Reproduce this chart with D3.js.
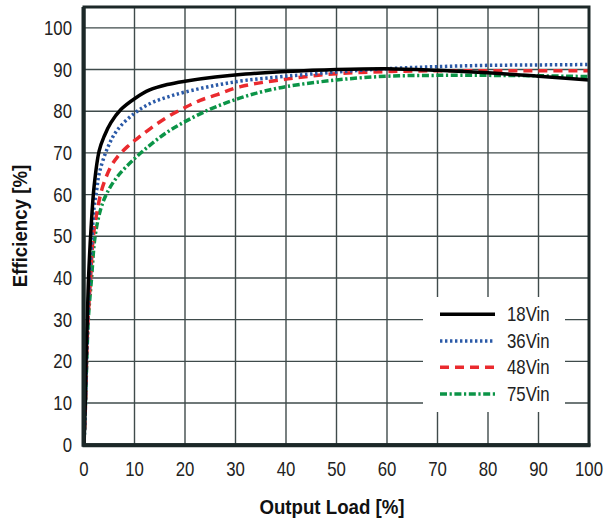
<!DOCTYPE html>
<html>
<head>
<meta charset="utf-8">
<script src="https://cdn.jsdelivr.net/npm/d3@7"></script>
<style>
    body { margin: 0; background: #fff; }
    svg { display: block; font-family: "Liberation Sans", Arial, sans-serif; }
    .grid line { stroke: #3f4b4b; stroke-width: 1.4; }
    .tick-label { font-size: 20px; fill: #222; }
    .axis-title { font-size: 21px; font-weight: bold; fill: #111; }
    .curve { fill: none; stroke-width: 3.5; }
</style>
</head>
<body>
<svg id="chart"></svg>
<script>
// values, load % and efficiency %
const load18 = [0, 0.25, 0.4, 0.65, 0.9, 1.4, 2, 3, 4, 5.3, 7.3, 10, 13, 16.5, 20, 26, 32, 40, 50, 60, 70, 80, 90, 100];
const eff18  = [0, 10, 20, 30, 40, 52, 62, 70.5, 74, 77.2, 80.4, 83, 85.1, 86.4, 87.2, 88.2, 88.9, 89.5, 90, 90.2, 89.8, 89.2, 88.4, 87.5];

const load36 = [0, 0.3, 0.5, 0.75, 1.1, 1.6, 2, 2.5, 3, 4.6, 6.6, 10, 13.2, 16.5, 20, 26, 32, 40, 50, 60, 70, 80, 90, 100];
const eff36  = [0, 10, 20, 30, 40, 50, 57, 61, 65, 71, 75.5, 79.5, 81.9, 83.4, 84.6, 86.2, 87.4, 88.4, 89.4, 90.2, 90.7, 91, 91.1, 91.2];

const load48 = [0, 0.3, 0.5, 0.8, 1.3, 1.85, 2.6, 3.6, 5.3, 6.6, 8.6, 10.6, 13.2, 16.5, 20, 23, 26.4, 31, 40, 50, 60, 70, 80, 90, 100];
const eff48  = [0, 10, 20, 30, 40, 50, 56, 61.5, 66.7, 69, 71.5, 73.5, 75.9, 78.6, 80.9, 82.6, 84, 85.9, 87.7, 89, 89.5, 89.7, 89.7, 89.7, 89.7];

const load75 = [0, 0.3, 0.55, 0.85, 1.5, 2.2, 3.3, 4.6, 6.6, 9.9, 13.2, 16.5, 20, 25, 30, 35, 40, 50, 60, 70, 80, 90, 100];
const eff75  = [0, 10, 20, 30, 40, 50, 56.5, 60.5, 64.3, 68.5, 72, 75, 77.5, 80.5, 82.8, 84.6, 85.9, 87.5, 88.4, 88.6, 88.6, 88.5, 88.3];

const seriesNames = ["18Vin", "36Vin", "48Vin", "75Vin"];
const xTicks = [0, 10, 20, 30, 40, 50, 60, 70, 80, 90, 100];
const yTicks = [0, 10, 20, 30, 40, 50, 60, 70, 80, 90, 100];

const W = 604, H = 522;
const styles = [
    {color: "#000000", dash: null},
    {color: "#2b5aa8", dash: "2.4,2.6"},
    {color: "#ea2a2e", dash: "9,6"},
    {color: "#0b9447", dash: "7,2.6,2.2,2.6"}
];

const svg = d3.select("#chart").attr("width", W).attr("height", H);

const x = d3.scaleLinear().domain([0, 100]).range([84, 589]);
const y = d3.scaleLinear().domain([0, 105]).range([444.7, 7]);

// the original uses a condensed face, so squeeze Liberation Sans sideways
function narrowText(sel, sx, px, py, extra) {
    return sel.attr("transform", function (d, i) {
        let tx = typeof px === "function" ? px(d, i) : px;
        let ty = typeof py === "function" ? py(d, i) : py;
        return "translate(" + tx + "," + ty + ")" + (extra || "") + " scale(" + sx + ",1)";
    });
}

// grid
const grid = svg.append("g").attr("class", "grid");
grid.selectAll("line.v").data(xTicks.slice(1, -1)).enter().append("line")
    .attr("x1", d => x(d)).attr("x2", d => x(d))
    .attr("y1", y(105)).attr("y2", y(0));
grid.selectAll("line.h").data(yTicks.slice(1)).enter().append("line")
    .attr("x1", x(0)).attr("x2", x(100))
    .attr("y1", d => y(d)).attr("y2", d => y(d));

// legend background hides the grid behind it
svg.append("rect")
    .attr("x", 423).attr("y", 297)
    .attr("width", 142).attr("height", 115)
    .attr("fill", "#fff");

// curves
const series = [
    d3.zip(load18, eff18),
    d3.zip(load36, eff36),
    d3.zip(load48, eff48),
    d3.zip(load75, eff75)
];
const line = d3.line()
    .x(d => x(d[0]))
    .y(d => y(d[1]))
    .curve(d3.curveCatmullRom.alpha(0.5));

// draw 18Vin last so it sits on top like the original
[3, 2, 1, 0].forEach(function (i) {
    svg.append("path")
        .datum(series[i])
        .attr("class", "curve")
        .attr("stroke", styles[i].color)
        .attr("stroke-dasharray", styles[i].dash)
        .attr("d", line);
});

// frame
svg.append("rect")
    .attr("x", x(0)).attr("y", y(105))
    .attr("width", x(100) - x(0)).attr("height", y(0) - y(105))
    .attr("fill", "none").attr("stroke", "#1c2828").attr("stroke-width", 3);
svg.append("line")
    .attr("x1", x(0) - 1.5).attr("x2", x(100) + 1.5)
    .attr("y1", y(0) + 0.5).attr("y2", y(0) + 0.5)
    .attr("stroke", "#1c2828").attr("stroke-width", 4);
svg.append("line")
    .attr("x1", x(0) - 0.5).attr("x2", x(0) - 0.5)
    .attr("y1", y(105)).attr("y2", y(0) + 2)
    .attr("stroke", "#1c2828").attr("stroke-width", 4);

// tick labels
narrowText(svg.selectAll("text.ytick").data(yTicks).enter().append("text")
    .attr("class", "tick-label")
    .attr("text-anchor", "end")
    .text(d => d), 0.84, 72, d => y(d) + 7);
narrowText(svg.selectAll("text.xtick").data(xTicks).enter().append("text")
    .attr("class", "tick-label")
    .attr("text-anchor", "middle")
    .text(d => d), 0.84, d => x(d), 475.5);

// axis titles
narrowText(svg.append("text")
    .attr("class", "axis-title")
    .attr("text-anchor", "middle")
    .text("Output Load [%]"), 0.89, 332, 513.5);
narrowText(svg.append("text")
    .attr("class", "axis-title")
    .attr("text-anchor", "middle")
    .text("Efficiency [%]"), 0.89, 26.5, 226, " rotate(-90)");

// legend
const legendY = [314.3, 341, 367.3, 394];
const legend = svg.selectAll("g.legend").data(seriesNames).enter().append("g")
    .attr("transform", (d, i) => "translate(0," + legendY[i] + ")");
legend.append("line")
    .attr("x1", 440).attr("x2", 495)
    .attr("y1", 0).attr("y2", 0)
    .attr("stroke-width", 3.5)
    .attr("stroke", (d, i) => styles[i].color)
    .attr("stroke-dasharray", (d, i) => styles[i].dash);
narrowText(legend.append("text")
    .attr("class", "tick-label")
    .text(d => d), 0.84, 507, 7);
</script>
</body>
</html>
